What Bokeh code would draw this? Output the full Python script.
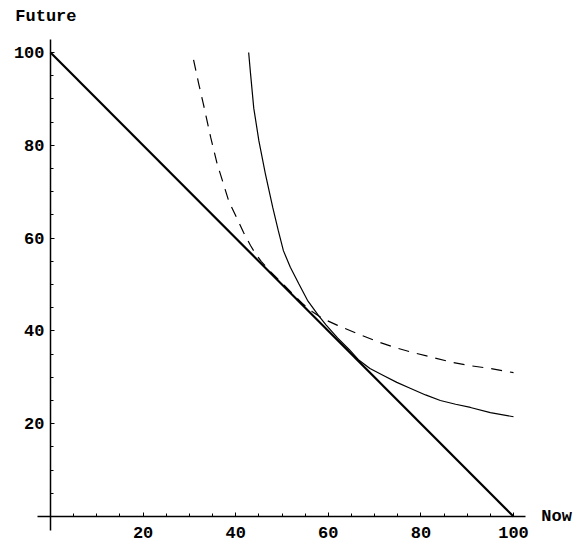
from bokeh.plotting import figure
from bokeh.models import Range1d, FixedTicker, Label
from bokeh.embed import file_html
from bokeh.resources import INLINE

# budget line
budget_x = [0, 100]
budget_y = [100, 0]

# dashed indifference curve
dashed_x = [30.9, 32.0, 33.0, 34.6, 36.0, 38.5, 41.7, 43.2, 44.3, 45.5, 47.0, 48.5,
            50.0, 52.0, 54.4, 56.5, 58.7, 62.0, 66.3, 70.6, 74.5, 78.4, 82.5, 86.8,
            90.7, 95.0, 100.0]
dashed_y = [98.4, 93.3, 89.0, 81.7, 76.0, 68.0, 61.2, 58.4, 56.6, 55.0, 53.3, 51.8,
            50.3, 48.3, 45.9, 44.2, 42.7, 41.2, 39.4, 37.7, 36.4, 35.3, 34.3, 33.2,
            32.5, 31.9, 31.0]

# solid indifference curve
solid_x = [42.8, 43.2, 43.9, 45.0, 46.4, 48.0, 49.2, 50.3, 51.8, 53.6, 55.5, 57.9,
           59.5, 62.0, 64.5, 66.5, 69.0, 71.9, 74.8, 77.8, 81.0, 84.2, 87.5, 90.7,
           95.0, 100.0]
solid_y = [100.0, 95.5, 88.0, 81.0, 73.9, 66.6, 61.6, 57.3, 53.7, 50.2, 46.6, 43.3,
           41.3, 38.5, 36.0, 33.8, 31.9, 30.4, 28.9, 27.6, 26.2, 25.0, 24.2, 23.5,
           22.4, 21.5]

major_ticks = [20, 40, 60, 80, 100]
minor_ticks = [5, 10, 15, 25, 30, 35, 45, 50, 55, 65, 70, 75, 85, 90, 95]

FONT = "Liberation Mono"

# picture x = 50 + 4.63*X ; picture y = 516 - 4.64*Y
p = figure(width=580, height=544, output_backend="svg", toolbar_location=None,
           x_range=Range1d(-50 / 4.63, 530 / 4.63), y_range=Range1d(-28 / 4.64, 516 / 4.64),
           min_border=0)
p.outline_line_color = None
p.xgrid.visible = False
p.ygrid.visible = False
p.background_fill_color = "white"
p.border_fill_color = "white"

p.xaxis[0].bounds = (-2.81, 102.6)
p.yaxis[0].bounds = (-3.0, 102.8)
for ax in (p.xaxis[0], p.yaxis[0]):
    ax.fixed_location = 0
    ax.ticker = FixedTicker(ticks=major_ticks, minor_ticks=minor_ticks)
    ax.axis_line_color = "black"
    ax.axis_line_width = 1.5
    ax.major_tick_in = 4
    ax.major_tick_out = 0
    ax.minor_tick_in = 3
    ax.minor_tick_out = 0
    ax.major_tick_line_color = "black"
    ax.minor_tick_line_color = "black"
    ax.major_label_text_font = FONT
    ax.major_label_text_font_style = "bold"
    ax.major_label_text_font_size = "17px"
    ax.major_label_text_color = "black"

p.xaxis[0].major_label_standoff = 10
p.yaxis[0].major_label_standoff = 6

p.line(budget_x, budget_y, line_color="black", line_width=2.2)
p.line(dashed_x, dashed_y, line_color="black", line_width=1.2, line_dash="11 8")
p.line(solid_x, solid_y, line_color="black", line_width=1.2)

p.add_layout(Label(x=106.0, y=0, text="Now", text_font=FONT, text_font_style="bold",
                   text_font_size="17px", text_align="left", text_baseline="middle",
                   text_color="black"))
p.add_layout(Label(x=-7.6, y=107.8, text="Future", text_font=FONT, text_font_style="bold",
                   text_font_size="17px", text_align="left", text_baseline="middle",
                   text_color="black"))

open("out.html", "w").write(file_html(p, INLINE))
